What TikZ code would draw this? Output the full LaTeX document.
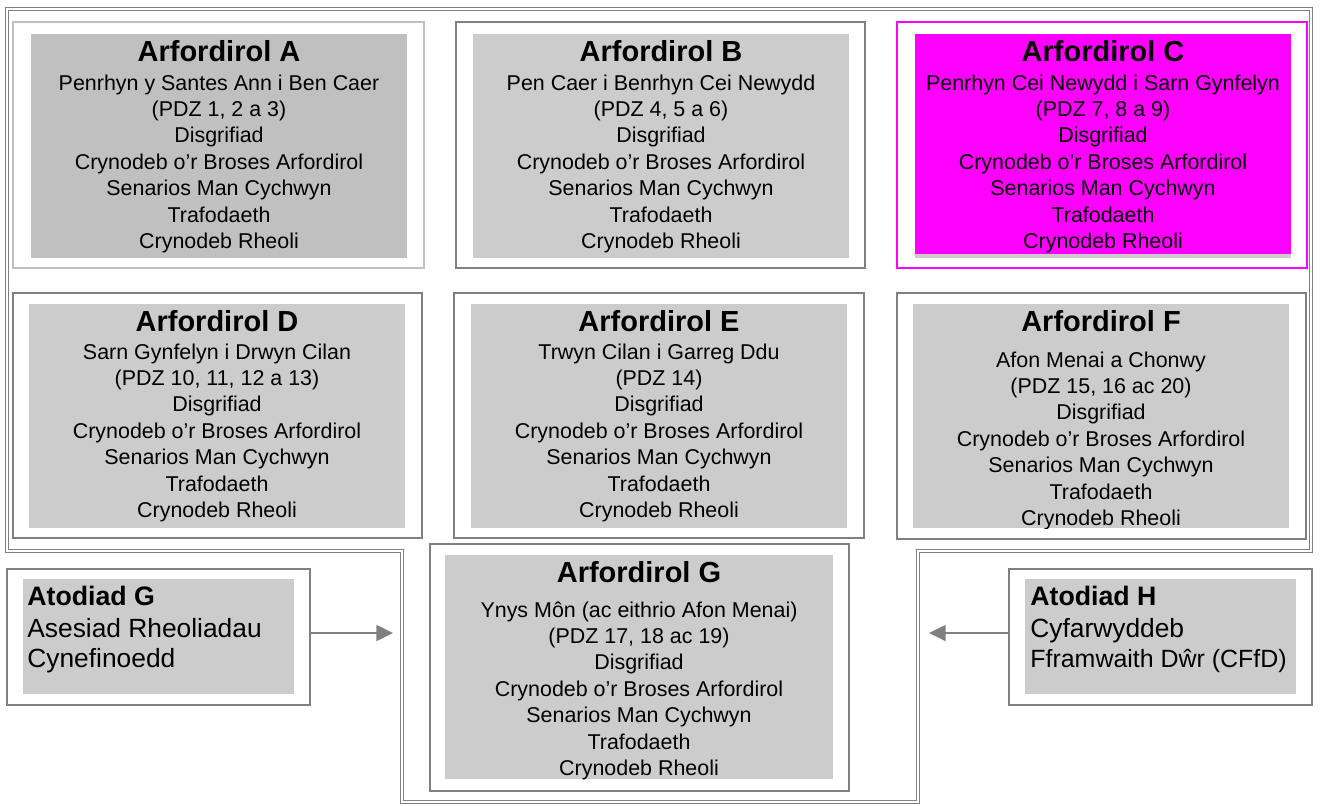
\documentclass[tikz,border=0pt]{standalone}
\usepackage{fontspec}
\setmainfont{Liberation Sans}
\usetikzlibrary{arrows.meta}

\definecolor{boxgray}{HTML}{808080}
\definecolor{lightrule}{HTML}{C0C0C0}
\definecolor{panelgray}{HTML}{CCCCCC}
\definecolor{silverpanel}{HTML}{C0C0C0}
\definecolor{pinkpanel}{HTML}{FF00FF}

\tikzset{
  frame/.style={draw=boxgray, double=white, line width=0.6pt, double distance=1.4pt},
  outerbox/.style={draw=boxgray, line width=0.9pt, fill=white},
  heading/.style={anchor=base, inner sep=0pt, font=\fontsize{16.5}{18}\selectfont\bfseries},
  listing/.style={anchor=base, inner sep=0pt, font=\fontsize{12.2}{15}\selectfont},
  apptitle/.style={anchor=base west, inner sep=0pt, font=\fontsize{15.2}{17.6}\selectfont\bfseries},
  apptext/.style={anchor=base west, inner sep=0pt, font=\fontsize{15}{17.6}\selectfont},
  link/.style={draw=boxgray, line width=1.3pt, -{Triangle[length=9.5pt,width=9pt]}},
}

% name, centre x, title baseline, first line baseline, title, place, zones
\newcommand{\coastcell}[7]{%
  \node [heading] (#1title) at (#2,#3) {#5};
  \foreach \txt [count=\i from 0] in {{#6},{#7},Disgrifiad,Crynodeb o’r Broses Arfordirol,Senarios Man Cychwyn,Trafodaeth,Crynodeb Rheoli}
    \node [listing] (#1line\i) at (#2,#4+26.4*\i) {\txt};
}

\begin{document}
\begin{tikzpicture}[x=0.02cm, y=-0.02cm]
                \useasboundingbox (0,0) rectangle (1321,805);
                \draw [frame] (7,9) -- (1311,9) -- (1311,551) -- (918,551) -- (918,802)
                    -- (402,802) -- (402,551) -- (7,551) -- cycle;
%
                \draw [outerbox, draw=lightrule] (13,22) rectangle (424,268);
                \fill [silverpanel] (31,34) rectangle (407,258);
                \coastcell{a}{219}{61}{90}{Arfordirol A}{Penrhyn y Santes Ann i Ben Caer}{(PDZ 1, 2 a 3)}
%
                \draw [outerbox] (456,22) rectangle (865,268);
                \fill [panelgray] (473,34) rectangle (849,258);
                \coastcell{b}{661}{61}{90}{Arfordirol B}{Pen Caer i Benrhyn Cei Newydd}{(PDZ 4, 5 a 6)}
%
                \draw [outerbox, draw=pinkpanel] (897,22) rectangle (1307,268);
                \fill [panelgray] (915,34) rectangle (1291,258);
                \fill [pinkpanel] (915,34) rectangle (1291,254);
                \coastcell{c}{1103}{61}{90}{Arfordirol C}{Penrhyn Cei Newydd i Sarn Gynfelyn}{(PDZ 7, 8 a 9)}
%
                \draw [outerbox] (13,293) rectangle (422,538);
                \fill [panelgray] (29,304) rectangle (405,528);
                \coastcell{d}{217}{331}{359}{Arfordirol D}{Sarn Gynfelyn i Drwyn Cilan}{(PDZ 10, 11, 12 a 13)}
%
                \draw [outerbox] (454,293) rectangle (864,538);
                \fill [panelgray] (471,304) rectangle (847,528);
                \coastcell{e}{659}{331}{359}{Arfordirol E}{Trwyn Cilan i Garreg Ddu}{(PDZ 14)}
%
                \draw [outerbox] (897,293) rectangle (1306,539);
                \fill [panelgray] (913,304) rectangle (1289,528);
                \begin{scope}
                    \clip (913,304) rectangle (1289,528);
                    \coastcell{f}{1101}{331}{367}{Arfordirol F}{Afon Menai a Chonwy}{(PDZ 15, 16 ac 20)}
                \end{scope}
%
                \draw [outerbox] (430,544) rectangle (849,791);
                \fill [panelgray] (445,555) rectangle (833,779);
                \begin{scope}
                    \clip (445,555) rectangle (833,779);
                    \coastcell{g}{639}{582}{617}{Arfordirol G}{Ynys Môn (ac eithrio Afon Menai)}{(PDZ 17, 18 ac 19)}
                \end{scope}
%
                \node [outerbox, minimum width=6.06cm, minimum height=2.72cm] (appG) at (158.5,637) {};
                \fill [panelgray] (23,579) rectangle (294,694);
                \node [apptitle] (appGtitle) at (27,605) {Atodiad G};
                \node [apptext] (appGline1) at (27,637) {Asesiad Rheoliadau};
                \node [apptext] (appGline2) at (27,667) {Cynefinoedd};
%
                \node [outerbox, minimum width=6.06cm, minimum height=2.72cm] (appH) at (1160.5,637) {};
                \fill [panelgray] (1025,579) rectangle (1296,694);
                \node [apptitle] (appHtitle) at (1030,605) {Atodiad H};
                \node [apptext] (appHline1) at (1030,637) {Cyfarwyddeb};
                \node [apptext, font=\fontsize{14.2}{17.6}\selectfont] (appHline2) at (1030,667) {Fframwaith Dŵr (CFfD)};
%
                \coordinate (gIn) at (393,633);
                \coordinate (hIn) at (929,633);
                \draw [link] (appG.east |- gIn) -- (gIn);
                \draw [link] (appH.west |- hIn) -- (hIn);
\end{tikzpicture}
\end{document}
